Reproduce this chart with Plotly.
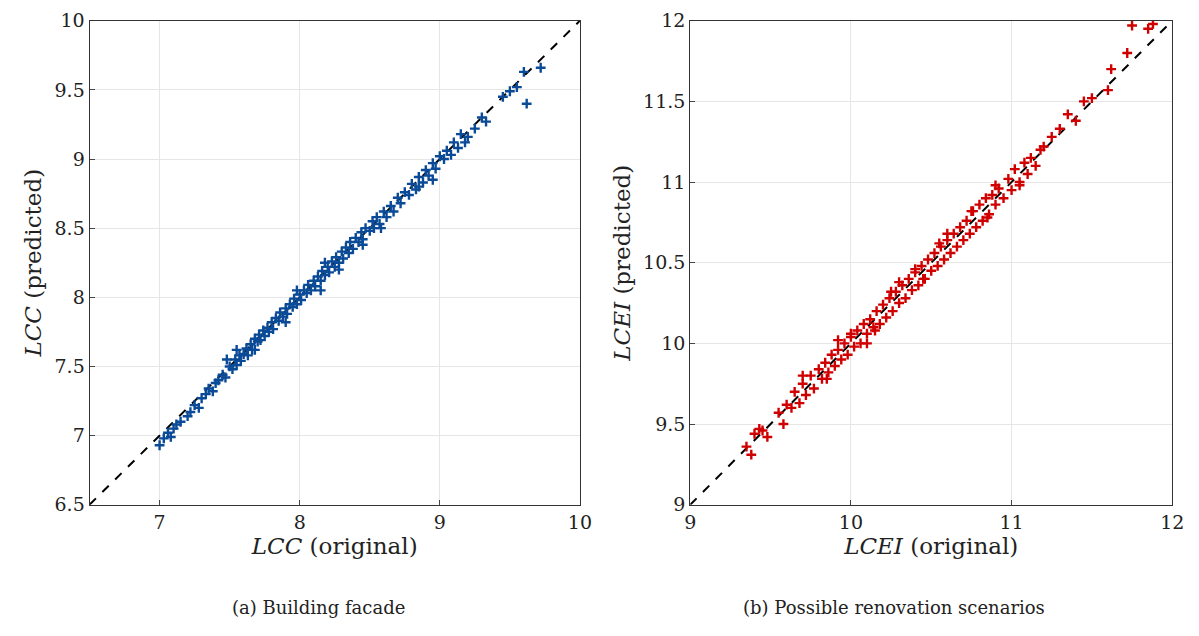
import plotly.graph_objects as go

# Panel (a): Building facade (LCC)
lcc_orig = [7.00,7.03,7.06,7.08,7.10,7.15,7.20,7.22,7.25,7.28,7.30,7.33,7.35,7.38,7.40,7.42,7.45,7.47,7.50,7.52,
            7.54,7.55,7.57,7.58,7.60,7.62,7.63,7.65,7.66,7.68,7.70,7.71,7.72,7.74,7.75,7.77,7.78,7.80,7.81,7.83,
            7.85,7.86,7.88,7.90,7.91,7.93,7.95,7.96,7.98,8.00,8.01,8.03,8.05,8.06,8.08,8.10,8.11,8.13,8.15,8.16,
            8.18,8.20,8.21,8.23,8.25,8.26,8.28,8.30,8.31,8.33,8.35,8.36,8.38,8.40,8.42,8.44,8.45,8.47,8.50,8.52,
            8.53,8.55,8.57,8.60,8.62,8.65,8.67,8.70,8.72,8.75,8.78,8.80,8.83,8.85,8.88,8.90,8.92,8.95,8.97,9.00,
            9.03,9.05,9.08,9.10,9.13,9.15,9.20,9.25,9.30,9.33,9.45,9.50,9.55,9.60,9.62,9.72,7.12,7.55,7.90,8.15,
            8.45,8.85,8.95,9.18,7.68,7.98,8.28,8.58,8.18,7.48]
lcc_pred = [6.93,6.98,7.02,6.99,7.05,7.10,7.14,7.17,7.22,7.20,7.27,7.30,7.34,7.32,7.38,7.40,7.44,7.42,7.50,7.48,
            7.55,7.51,7.58,7.54,7.59,7.63,7.58,7.66,7.62,7.70,7.68,7.73,7.69,7.76,7.72,7.78,7.75,7.82,7.77,7.85,
            7.83,7.89,7.86,7.92,7.88,7.95,7.93,7.99,7.95,8.02,7.98,8.05,8.03,8.09,8.05,8.12,8.08,8.15,8.12,8.19,
            8.16,8.22,8.18,8.26,8.22,8.29,8.25,8.33,8.28,8.36,8.32,8.40,8.35,8.43,8.40,8.47,8.42,8.50,8.48,8.55,
            8.50,8.58,8.53,8.62,8.58,8.66,8.62,8.72,8.68,8.76,8.74,8.82,8.78,8.87,8.83,8.92,8.88,8.97,8.93,9.02,
            9.00,9.06,9.03,9.12,9.08,9.18,9.16,9.22,9.30,9.27,9.45,9.49,9.52,9.63,9.40,9.66,7.08,7.62,7.82,8.05,
            8.38,8.80,8.85,9.12,7.62,8.05,8.20,8.50,8.25,7.55]

# Panel (b): Possible renovation scenarios (LCEI)
lcei_orig = [9.35,9.38,9.40,9.43,9.45,9.48,9.55,9.58,9.60,9.63,9.65,9.68,9.70,9.72,9.75,9.77,9.80,9.82,9.84,9.86,
             9.88,9.90,9.92,9.94,9.96,9.98,10.00,10.02,10.04,10.06,10.08,10.10,10.12,10.14,10.16,10.18,10.20,10.22,10.24,10.26,
             10.28,10.30,10.32,10.34,10.36,10.38,10.40,10.42,10.44,10.46,10.48,10.50,10.52,10.54,10.56,10.58,10.60,10.62,10.64,10.66,
             10.68,10.70,10.72,10.74,10.76,10.78,10.80,10.82,10.84,10.86,10.88,10.90,10.92,10.95,10.98,11.00,11.02,11.05,11.08,11.10,
             11.12,11.15,11.18,11.20,11.25,11.30,11.35,11.40,11.45,11.50,11.60,11.62,11.72,11.75,11.85,11.88,9.70,9.85,10.00,10.15,
             10.30,10.45,10.60,10.75,10.90,11.05,10.25,10.55,10.85,9.92,10.10,10.40]
lcei_pred = [9.36,9.31,9.44,9.47,9.46,9.42,9.57,9.50,9.62,9.60,9.70,9.63,9.75,9.68,9.80,9.72,9.84,9.78,9.88,9.82,
             9.93,9.86,9.96,9.90,10.00,9.93,10.04,9.98,10.08,10.00,10.12,10.06,10.15,10.10,10.20,10.12,10.24,10.16,10.28,10.20,
             10.32,10.25,10.36,10.28,10.40,10.33,10.44,10.36,10.48,10.40,10.52,10.45,10.56,10.48,10.60,10.52,10.64,10.56,10.68,10.60,
             10.72,10.64,10.76,10.68,10.82,10.72,10.86,10.76,10.90,10.80,10.92,10.86,10.96,10.90,11.02,10.95,11.08,11.00,11.12,11.05,
             11.15,11.10,11.20,11.22,11.28,11.33,11.42,11.38,11.50,11.52,11.57,11.70,11.80,11.97,11.95,11.98,9.80,9.78,10.06,10.08,
             10.38,10.40,10.68,10.82,10.98,10.98,10.32,10.62,10.78,10.02,10.00,10.46]

cap_a = "(a) Building facade"
cap_b = "(b) Possible renovation scenarios"

fig = go.Figure()
serif = "DejaVu Serif"
fig.add_trace(go.Scatter(x=[6.5, 10], y=[6.5, 10], mode="lines", line=dict(color="black", dash="dash", width=2),
                         xaxis="x", yaxis="y", showlegend=False))
fig.add_trace(go.Scatter(x=lcc_orig, y=lcc_pred, mode="markers",
                         marker=dict(symbol="cross-thin", size=7, line=dict(color="#0a4a96", width=2.4)),
                         xaxis="x", yaxis="y", showlegend=False))
fig.add_trace(go.Scatter(x=[9, 12], y=[9, 12], mode="lines", line=dict(color="black", dash="dash", width=2),
                         xaxis="x2", yaxis="y2", showlegend=False))
fig.add_trace(go.Scatter(x=lcei_orig, y=lcei_pred, mode="markers",
                         marker=dict(symbol="cross-thin", size=7, line=dict(color="#d00000", width=2.4)),
                         xaxis="x2", yaxis="y2", showlegend=False))

ax = dict(showline=True, linecolor="#333", mirror=True, ticks="inside", ticklen=5, gridcolor="#e6e6e6",
          zeroline=False, automargin=False, tickfont=dict(family=serif, size=19, color="#222"),
          title_font=dict(family=serif, size=23, color="#222"))
fig.update_layout(
    width=1199, height=636, paper_bgcolor="white", plot_bgcolor="white",
    margin=dict(l=0, r=0, t=0, b=0, autoexpand=False),
    xaxis=dict(ax, domain=[0.068, 0.477], range=[6.5, 10], tickvals=[7, 8, 9, 10],
               title=dict(text="<i>LCC</i> (original)", standoff=6), anchor="y"),
    yaxis=dict(ax, domain=[0.219, 0.980], range=[6.5, 10], dtick=0.5,
               title=dict(text="<i>LCC</i> (predicted)", standoff=6), anchor="x"),
    xaxis2=dict(ax, domain=[0.569, 0.971], range=[9, 12], tickvals=[9, 10, 11, 12],
                title=dict(text="<i>LCEI</i> (original)", standoff=6), anchor="y2"),
    yaxis2=dict(ax, domain=[0.219, 0.980], range=[9, 12], dtick=0.5,
                title=dict(text="<i>LCEI</i> (predicted)", standoff=6), anchor="x2"),
    annotations=[
        dict(text=cap_a, x=0.259, y=0.038, xref="paper", yref="paper", xanchor="center", showarrow=False,
             font=dict(family=serif, size=18, color="#222")),
        dict(text=cap_b, x=0.739, y=0.038, xref="paper", yref="paper", xanchor="center", showarrow=False,
             font=dict(family=serif, size=18, color="#222")),
    ],
)
fig.write_html("out.html")
